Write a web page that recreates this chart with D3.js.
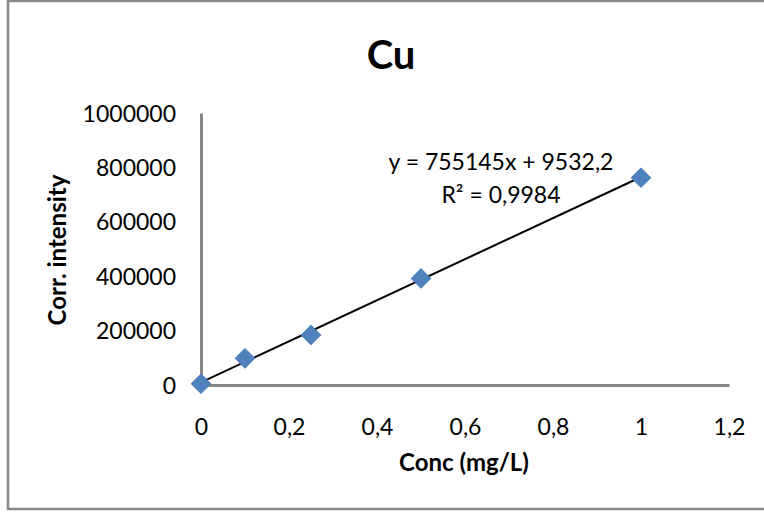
<!DOCTYPE html>
<html><head><meta charset="utf-8">
<script src="https://cdn.jsdelivr.net/npm/d3@7"></script>
<style>html,body{margin:0;padding:0;background:#fff;}svg{display:block;}</style>
</head><body>
<svg id="chart" width="764" height="512"></svg>
<script>
const concentrations = [0, 0.1, 0.25, 0.5, 1];
const intensities = [5000, 98000, 184000, 392000, 762000];
const xTicks = [0, 0.2, 0.4, 0.6, 0.8, 1, 1.2];
const xTickLabels = ["0", "0,2", "0,4", "0,6", "0,8", "1", "1,2"];
const yTicks = [0, 200000, 400000, 600000, 800000, 1000000];
const yTickLabels = ["0", "200000", "400000", "600000", "800000", "1000000"];
const slope = 755145, intercept = 9532.2;
const equationText = "y = 755145x + 9532,2";
const r2Text = "R² = 0,9984";

const svg = d3.select("#chart");
const font = "Lato, 'Open Sans', sans-serif";

svg.append("rect").attr("x", 8).attr("y", 1).attr("width", 770).attr("height", 508)
  .attr("fill", "#fff").attr("stroke", "#898989").attr("stroke-width", 2.5);

const x = d3.scaleLinear().domain([0, 1.2]).range([201, 729]);
const y = d3.scaleLinear().domain([0, 1000000]).range([385, 113]);

// axes
const xAxis = d3.axisBottom(x).tickValues(xTicks).tickSize(0).tickFormat((d, i) => xTickLabels[i]);
const yAxis = d3.axisLeft(y).tickValues(yTicks).tickSize(0).tickFormat((d, i) => yTickLabels[i]);

const gx = svg.append("g").attr("transform", `translate(0,${y(0)})`).call(xAxis);
gx.select(".domain").attr("stroke", "#868686").attr("stroke-width", 3);
gx.selectAll("text").attr("font-family", font).attr("font-size", 23).attr("fill", "#000")
  .attr("dy", 0).attr("y", 50);

const gy = svg.append("g").attr("transform", `translate(${x(0)},0)`).call(yAxis);
gy.select(".domain").attr("stroke", "#868686").attr("stroke-width", 3);
gy.selectAll("text").attr("font-family", font).attr("font-size", 23).attr("fill", "#000")
  .attr("x", -25).attr("dy", "0.35em");

// trendline
const tl = [0, 1];
svg.append("line")
  .attr("x1", x(tl[0])).attr("y1", y(slope * tl[0] + intercept))
  .attr("x2", x(tl[1])).attr("y2", y(slope * tl[1] + intercept))
  .attr("stroke", "#000").attr("stroke-width", 2);

// markers
const sym = d3.symbol().type(d3.symbolSquare).size(185);
svg.append("g").selectAll("path").data(concentrations).join("path")
  .attr("d", sym)
  .attr("transform", (d, i) => `translate(${x(d)},${y(intensities[i])}) rotate(45)`)
  .attr("fill", "#4F81BD").attr("stroke", "#4A7EBB").attr("stroke-width", 1);

// title
svg.append("text").attr("x", 391).attr("y", 69).attr("text-anchor", "middle")
  .attr("font-family", font).attr("font-weight", "bold").attr("font-size", 40).text("Cu");

// axis titles
svg.append("text").attr("x", 464).attr("y", 471).attr("text-anchor", "middle")
  .attr("font-family", font).attr("font-weight", "bold").attr("font-size", 24).text("Conc (mg/L)");
svg.append("text").attr("transform", "translate(66,250) rotate(-90)").attr("text-anchor", "middle")
  .attr("font-family", font).attr("font-weight", "bold").attr("font-size", 24).text("Corr. intensity");

// equation
svg.append("text").attr("x", 501).attr("y", 170).attr("text-anchor", "middle")
  .attr("font-family", font).attr("font-size", 23).text(equationText);
svg.append("text").attr("x", 501).attr("y", 203).attr("text-anchor", "middle")
  .attr("font-family", font).attr("font-size", 23).text(r2Text);
</script>
</body></html>
